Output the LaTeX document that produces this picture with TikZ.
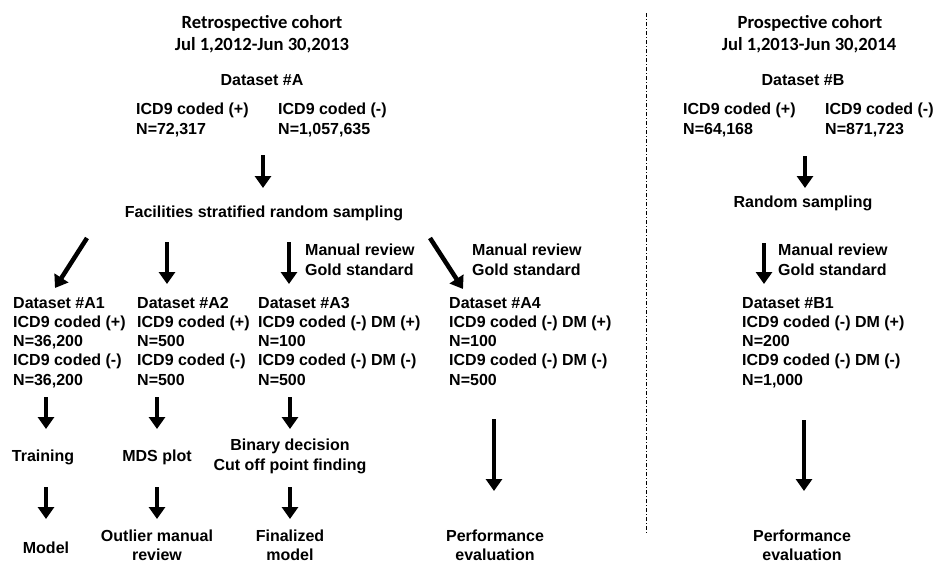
\documentclass[tikz,border=0pt]{standalone}
\usepackage{fontspec}
\setmainfont{Liberation Sans}
\newfontfamily\headfont{Carlito}
\usetikzlibrary{arrows.meta}
\begin{document}
\begin{tikzpicture}[x=1pt,y=-1pt,
  txt/.style={font=\bfseries\fontsize{16}{19.3}\selectfont, inner sep=0pt, anchor=base},
  ltxt/.style={txt, anchor=base west, align=left},
  ctxt/.style={txt, align=center},
  head/.style={font=\headfont\bfseries\fontsize{18.6}{22}\selectfont, inner sep=0pt, anchor=base},
  bigarrow/.style={line width=4.5pt, -{Triangle[width=16pt,length=12pt]}},
  divider/.style={line width=0.9pt, dash pattern=on 4pt off 2pt on 1pt off 2pt}]
\useasboundingbox (0,0) rectangle (933,563);
% ---------- retrospective (multi-line nodes placed by the baseline of their last line) ----------
\node[head] (rh1) at (262,28) {Retrospective cohort};
\node[head] (rh2) at (262,50) {Jul 1,2012-Jun 30,2013};
\node[txt] (dsA) at (262,85) {Dataset \#A};
\node[ltxt] (Apos) at (136,134) {ICD9 coded (+)\\N=72,317};
\node[ltxt] (Aneg) at (278,134) {ICD9 coded (-)\\N=1,057,635};
\node[txt] (fac) at (264,217) {Facilities stratified random sampling};
\node[ltxt] (mr3) at (305,275) {Manual review\\Gold standard};
\node[ltxt] (mr4) at (472,275) {Manual review\\Gold standard};
\node[ltxt] (A1) at (13,385.2) {Dataset \#A1\\ICD9 coded (+)\\N=36,200\\ICD9 coded (-)\\N=36,200};
\node[ltxt] (A2) at (137,385.2) {Dataset \#A2\\ICD9 coded (+)\\N=500\\ICD9 coded (-)\\N=500};
\node[ltxt] (A3) at (258,385.2) {Dataset \#A3\\ICD9 coded (-) DM (+)\\N=100\\ICD9 coded (-) DM (-)\\N=500};
\node[ltxt] (A4) at (449,385.2) {Dataset \#A4\\ICD9 coded (-) DM (+)\\N=100\\ICD9 coded (-) DM (-)\\N=500};
\node[txt] (train) at (43,461) {Training};
\node[txt] (mds) at (157,461) {MDS plot};
\node[ctxt] (bin) at (290,470) {Binary decision\\Cut off point finding};
\node[txt] (model) at (46,553) {Model};
\node[ctxt] (outl) at (157,560.5) {Outlier manual\\review};
\node[ctxt] (final) at (290,560.5) {Finalized\\model};
\node[ctxt] (perfA) at (495,560.5) {Performance\\evaluation};
% ---------- prospective ----------
\node[head] (ph1) at (810,28) {Prospective cohort};
\node[head] (ph2) at (809,50) {Jul 1,2013-Jun 30,2014};
\node[txt] (dsB) at (803,85) {Dataset \#B};
\node[ltxt] (Bpos) at (683,134) {ICD9 coded (+)\\N=64,168};
\node[ltxt] (Bneg) at (825,134) {ICD9 coded (-)\\N=871,723};
\node[txt] (rand) at (803,207) {Random sampling};
\node[ltxt] (mrB) at (778,275) {Manual review\\Gold standard};
\node[ltxt] (B1) at (742,385.2) {Dataset \#B1\\ICD9 coded (-) DM (+)\\N=200\\ICD9 coded (-) DM (-)\\N=1,000};
\node[ctxt] (perfB) at (802,560.5) {Performance\\evaluation};
% ---------- arrow end points ----------
\coordinate (s0) at (263,155); \coordinate (e0) at (263,188);
\coordinate (s1) at (87,238);  \coordinate (e1) at (55,288);
\coordinate (s2) at (167,242); \coordinate (e2) at (167,284);
\coordinate (s3) at (289,242); \coordinate (e3) at (289,284);
\coordinate (s4) at (430,238); \coordinate (e4) at (463,289);
\coordinate (t1s) at (46,397);  \coordinate (t1e) at (46,429);
\coordinate (t2s) at (157,397); \coordinate (t2e) at (157,429);
\coordinate (t3s) at (290,397); \coordinate (t3e) at (290,429);
\coordinate (m1s) at (46,487);  \coordinate (m1e) at (46,519);
\coordinate (m2s) at (157,487); \coordinate (m2e) at (157,519);
\coordinate (m3s) at (290,487); \coordinate (m3e) at (290,519);
\coordinate (p4s) at (494,419); \coordinate (p4e) at (494,491);
\coordinate (bs0) at (805,156); \coordinate (be0) at (805,188);
\coordinate (bs1) at (764,243); \coordinate (be1) at (764,284);
\coordinate (pbs) at (804,420); \coordinate (pbe) at (804,491);
\coordinate (dtop) at (646,13); \coordinate (dbot) at (646,533);
% ---------- arrows ----------
\foreach \a/\b in {s0/e0,s1/e1,s2/e2,s3/e3,s4/e4,t1s/t1e,t2s/t2e,t3s/t3e,m1s/m1e,m2s/m2e,m3s/m3e,p4s/p4e,bs0/be0,bs1/be1,pbs/pbe}
  \draw[bigarrow] (\a) -- (\b);
\draw[divider] (dtop) -- (dbot);
\end{tikzpicture}
\end{document}
